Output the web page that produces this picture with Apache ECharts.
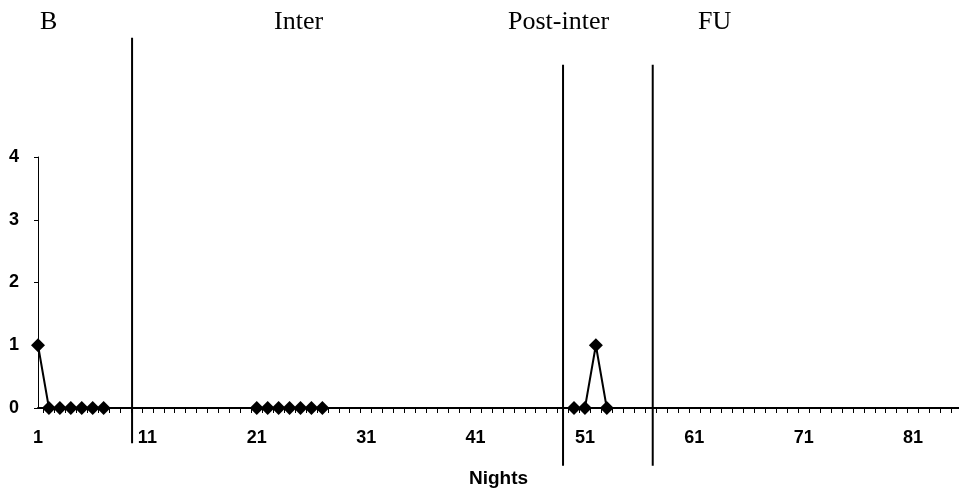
<!DOCTYPE html>
<html>
<head>
<meta charset="utf-8">
<script src="https://cdn.jsdelivr.net/npm/echarts@6/dist/echarts.min.js"></script>
<style>
html,body{margin:0;padding:0;background:#fff;}
#c{width:959px;height:498px;}
</style>
</head>
<body>
<div id="c"></div>
<script>
// ---- data ----
var nightsB = [1, 2, 3, 4, 5, 6, 7];
var valuesB = [1, 0, 0, 0, 0, 0, 0];
var nightsInter = [21, 22, 23, 24, 25, 26, 27];
var valuesInter = [0, 0, 0, 0, 0, 0, 0];
var nightsPost = [50, 51, 52, 53];
var valuesPost = [0, 0, 1, 0];
var xTickLabels = [1, 11, 21, 31, 41, 51, 61, 71, 81];
var yTickLabels = [0, 1, 2, 3, 4];
var phaseNames = ['B', 'Inter', 'Post-inter', 'FU'];
var phaseLineX = [9.6, 49, 57.2];
var phaseLineTop = [5.9, 5.47, 5.47];
var phaseLineBottom = [-0.56, -0.92, -0.92];

// ---- layout ----
var xMin = 1, xMax = 85.2;
var tickHalf = [];
for (var t = 1.5; t < xMax; t += 1) tickHalf.push(t);

function pairs(xs, ys) { return xs.map(function (x, i) { return [x, ys[i]]; }); }

var phaseLeft = [40, 274, 508, 698];

var chart = echarts.init(document.getElementById('c'), null, {renderer: 'canvas'});

var dataSeriesStyle = {
  type: 'line',
  xAxisIndex: 0, yAxisIndex: 0,
  symbol: 'diamond', symbolSize: 14,
  itemStyle: {color: '#000'},
  lineStyle: {color: '#000', width: 2},
  animation: false,
  z: 5
};

var series = [
  Object.assign({}, dataSeriesStyle, {data: pairs(nightsB, valuesB)}),
  Object.assign({}, dataSeriesStyle, {data: pairs(nightsInter, valuesInter)}),
  Object.assign({}, dataSeriesStyle, {data: pairs(nightsPost, valuesPost)})
];
phaseLineX.forEach(function (x, i) {
  series.push({
    type: 'line', xAxisIndex: 1, yAxisIndex: 1,
    symbol: 'none', animation: false, silent: true,
    lineStyle: {color: '#000', width: 2},
    data: [[x, phaseLineTop[i]], [x, phaseLineBottom[i]]],
    z: 4
  });
});

var labelFont = 'Liberation Sans, Arial, sans-serif';

var option = {
  backgroundColor: '#fff',
  animation: false,
  grid: [
    {left: 38, right: 0, top: 157, bottom: 90, containLabel: false},
    {left: 38, right: 0, top: 31.5, bottom: 27.25, containLabel: false}
  ],
  xAxis: [
    {
      type: 'value', gridIndex: 0, min: xMin, max: xMax,
      splitLine: {show: false},
      axisLine: {onZero: false, lineStyle: {color: '#000', width: 2}},
      axisTick: {show: true, inside: false, length: 5, customValues: tickHalf, lineStyle: {color: '#000', width: 1}},
      axisLabel: {
        customValues: xTickLabels, margin: 21, color: '#000',
        fontFamily: labelFont, fontSize: 18, fontWeight: 'bold'
      },
      name: 'Nights', nameLocation: 'middle', nameGap: 61,
      nameTextStyle: {color: '#000', fontFamily: labelFont, fontSize: 19, fontWeight: 'bold'}
    },
    {
      type: 'value', gridIndex: 1, min: xMin, max: xMax, show: false
    }
  ],
  yAxis: [
    {
      type: 'value', gridIndex: 0, min: 0, max: 4, interval: 1,
      splitLine: {show: false},
      axisLine: {show: true, lineStyle: {color: '#000', width: 1}},
      axisTick: {show: true, inside: false, length: 4, lineStyle: {color: '#000'}},
      axisLabel: {
        customValues: yTickLabels, margin: 19, color: '#000',
        fontFamily: labelFont, fontSize: 18, fontWeight: 'bold'
      }
    },
    {
      type: 'value', gridIndex: 1, min: -1, max: 6, show: false
    }
  ],
  graphic: phaseNames.map(function (name, i) {
    return {
      type: 'text', left: phaseLeft[i], top: 9,
      style: {text: name, fill: '#000', font: '26px "Liberation Serif", "Times New Roman", serif'}
    };
  }),
  series: series
};
chart.setOption(option);
</script>
</body>
</html>
